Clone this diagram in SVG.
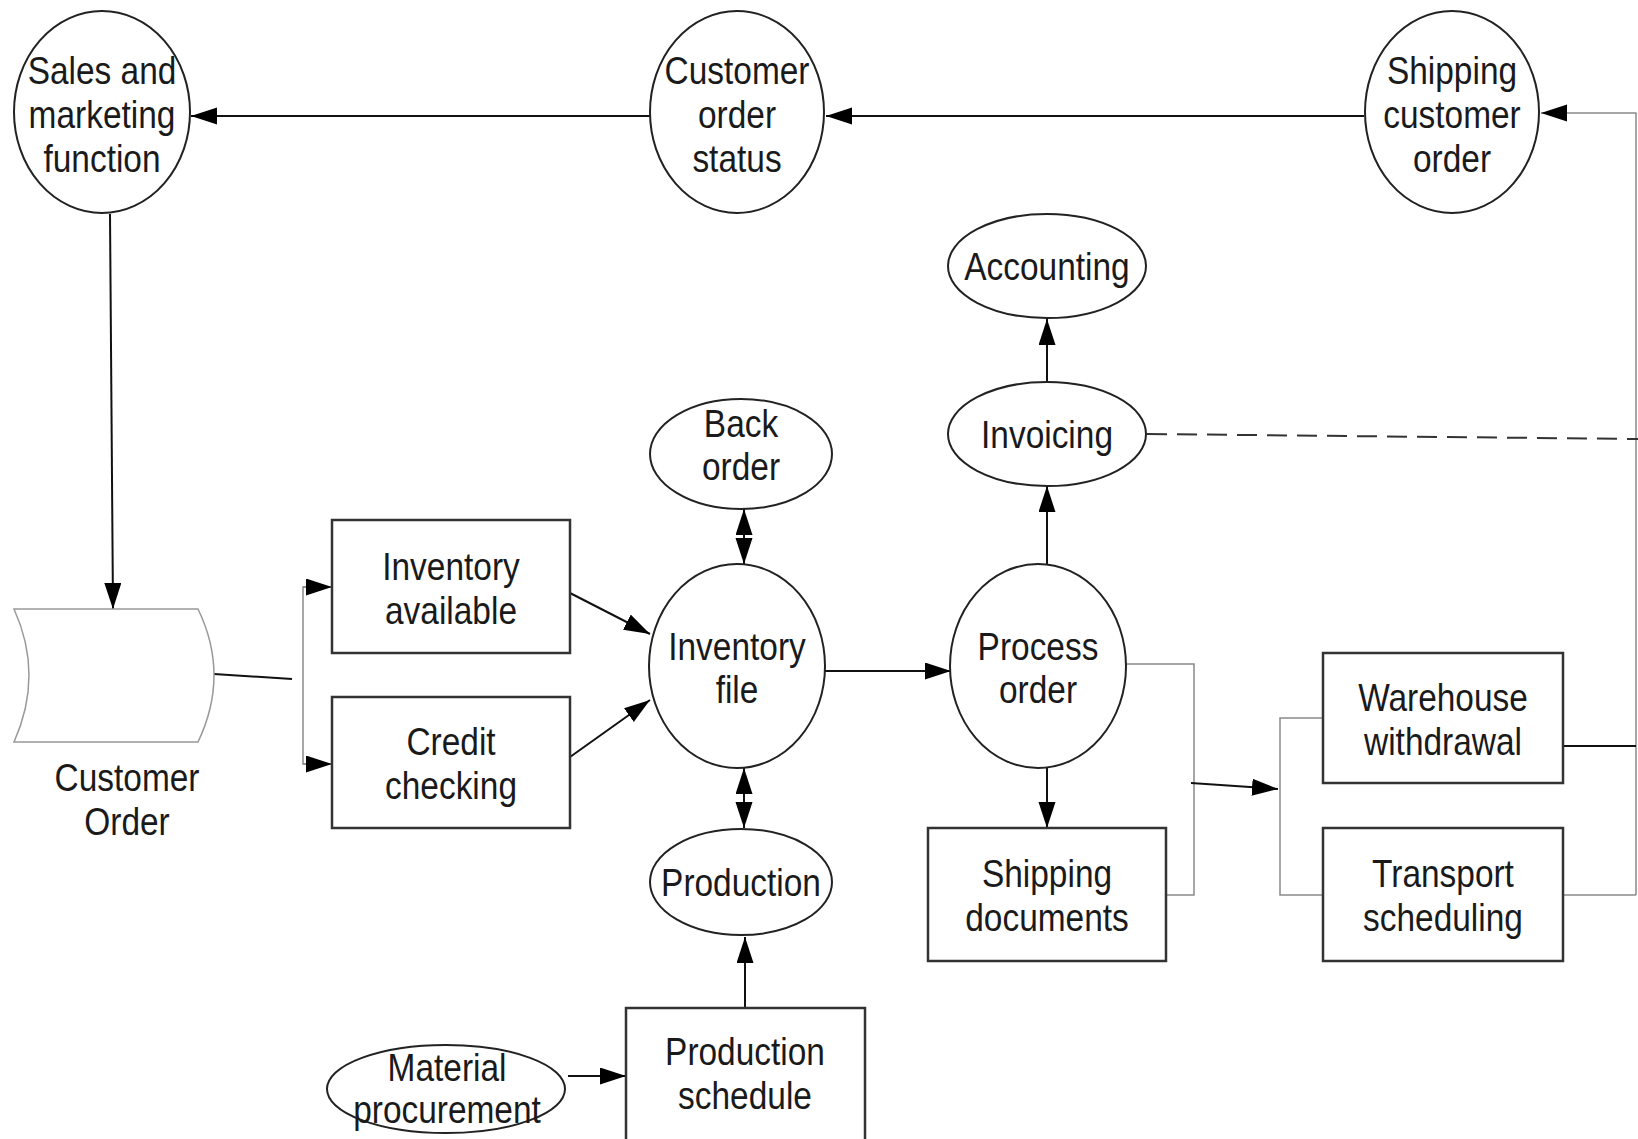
<svg xmlns="http://www.w3.org/2000/svg" width="1638" height="1139" viewBox="0 0 1638 1139">
<style>
.t{font-family:"Liberation Sans",Arial,sans-serif;font-size:38px;fill:#1a1a1a;text-anchor:middle}
.n{fill:#fff;stroke:#222;stroke-width:2}
.r{fill:#fff;stroke:#333;stroke-width:2.5}
.c{fill:none;stroke:#111;stroke-width:2}
.g{fill:none;stroke:#8a8a8a;stroke-width:1.5}
.d{fill:none;stroke:#333;stroke-width:2;stroke-dasharray:20 10}
</style>
<defs>
<marker id="ah" markerUnits="userSpaceOnUse" markerWidth="28" markerHeight="20" refX="26" refY="8.5" orient="auto-start-reverse">
<path d="M0,0 L26,8.5 L0,17 Z" fill="#000"/>
</marker>
</defs>
<rect width="1638" height="1139" fill="#fff"/>
<g id="connectors">
<line class="c" x1="650" y1="116" x2="191" y2="116" marker-end="url(#ah)"/>
<line class="c" x1="1364" y1="116" x2="826" y2="116" marker-end="url(#ah)"/>
<polyline class="g" points="1636,895 1636,113 1541,113" marker-end="url(#ah)"/>
<line class="c" x1="1559" y1="746" x2="1636" y2="746"/>
<line class="g" x1="1563" y1="895" x2="1636" y2="895"/>
<line class="d" x1="1147" y1="434" x2="1638" y2="439"/>
<line class="c" x1="1047" y1="381" x2="1047" y2="319" marker-end="url(#ah)"/>
<line class="c" x1="1047" y1="565" x2="1047" y2="486" marker-end="url(#ah)"/>
<line class="c" x1="1047" y1="767" x2="1047" y2="828" marker-end="url(#ah)"/>
<line class="c" x1="825" y1="671" x2="951" y2="671" marker-end="url(#ah)"/>
<line class="c" x1="570" y1="593" x2="650" y2="634" marker-end="url(#ah)"/>
<line class="c" x1="570" y1="757" x2="650" y2="700" marker-end="url(#ah)"/>
<line class="c" x1="744" y1="509" x2="744" y2="564" marker-start="url(#ah)" marker-end="url(#ah)"/>
<line class="c" x1="744" y1="768" x2="744" y2="828" marker-start="url(#ah)" marker-end="url(#ah)"/>
<line class="c" x1="745" y1="1008" x2="745" y2="937" marker-end="url(#ah)"/>
<line class="c" x1="568" y1="1076" x2="626" y2="1076" marker-end="url(#ah)"/>
<line class="c" x1="214" y1="674" x2="292" y2="679"/>
<polyline class="g" points="332,587 303,587 303,764 332,764"/>
<line class="g" x1="303" y1="587" x2="332" y2="587" marker-end="url(#ah)"/>
<line class="g" x1="303" y1="764" x2="332" y2="764" marker-end="url(#ah)"/>
<line class="c" x1="110" y1="214" x2="113" y2="609" marker-end="url(#ah)"/>
<polyline class="g" points="1126,664 1194,664 1194,895 1166,895"/>
<line class="c" x1="1191" y1="783" x2="1278" y2="789" marker-end="url(#ah)"/>
<polyline class="g" points="1323,718 1280,718 1280,895 1323,895"/>
</g>
<g id="sales">
<ellipse class="n" cx="102" cy="112" rx="88" ry="101"/>
<text class="t" transform="translate(102,84) scale(0.88,1)"><tspan x="0" y="0">Sales and</tspan><tspan x="0" y="44">marketing</tspan><tspan x="0" y="88">function</tspan></text>
</g>
<g id="order-status">
<ellipse class="n" cx="737" cy="112" rx="87" ry="101"/>
<text class="t" transform="translate(737,84) scale(0.88,1)"><tspan x="0" y="0">Customer</tspan><tspan x="0" y="44">order</tspan><tspan x="0" y="88">status</tspan></text>
</g>
<g id="shipping-customer-order">
<ellipse class="n" cx="1452" cy="112" rx="87" ry="101"/>
<text class="t" transform="translate(1452,84) scale(0.88,1)"><tspan x="0" y="0">Shipping</tspan><tspan x="0" y="44">customer</tspan><tspan x="0" y="88">order</tspan></text>
</g>
<g id="accounting">
<ellipse class="n" cx="1047" cy="266" rx="99" ry="52"/>
<text class="t" transform="translate(1047,280) scale(0.88,1)">Accounting</text>
</g>
<g id="invoicing">
<ellipse class="n" cx="1047" cy="434" rx="99" ry="52"/>
<text class="t" transform="translate(1047,448) scale(0.88,1)">Invoicing</text>
</g>
<g id="back-order">
<ellipse class="n" cx="741" cy="454" rx="91" ry="55"/>
<text class="t" transform="translate(741,437) scale(0.88,1)"><tspan x="0" y="0">Back</tspan><tspan x="0" y="43">order</tspan></text>
</g>
<g id="inventory-file">
<ellipse class="n" cx="737" cy="666" rx="88" ry="102"/>
<text class="t" transform="translate(737,660) scale(0.88,1)"><tspan x="0" y="0">Inventory</tspan><tspan x="0" y="43">file</tspan></text>
</g>
<g id="process-order">
<ellipse class="n" cx="1038" cy="666" rx="88" ry="102"/>
<text class="t" transform="translate(1038,660) scale(0.88,1)"><tspan x="0" y="0">Process</tspan><tspan x="0" y="43">order</tspan></text>
</g>
<g id="production">
<ellipse class="n" cx="741" cy="882" rx="91" ry="53"/>
<text class="t" transform="translate(741,896) scale(0.88,1)">Production</text>
</g>
<g id="material-procurement">
<ellipse class="n" cx="446" cy="1089" rx="119" ry="44"/>
<text class="t" transform="translate(447,1081) scale(0.88,1)"><tspan x="0" y="0">Material</tspan><tspan x="0" y="42">procurement</tspan></text>
</g>
<g id="production-schedule">
<rect class="r" x="626" y="1008" width="239" height="140"/>
<text class="t" transform="translate(745,1065) scale(0.88,1)"><tspan x="0" y="0">Production</tspan><tspan x="0" y="44">schedule</tspan></text>
</g>
<g id="inventory-available">
<rect class="r" x="332" y="520" width="238" height="133"/>
<text class="t" transform="translate(451,580) scale(0.88,1)"><tspan x="0" y="0">Inventory</tspan><tspan x="0" y="44">available</tspan></text>
</g>
<g id="credit-checking">
<rect class="r" x="332" y="697" width="238" height="131"/>
<text class="t" transform="translate(451,755) scale(0.88,1)"><tspan x="0" y="0">Credit</tspan><tspan x="0" y="44">checking</tspan></text>
</g>
<g id="shipping-documents">
<rect class="r" x="928" y="828" width="238" height="133"/>
<text class="t" transform="translate(1047,887) scale(0.88,1)"><tspan x="0" y="0">Shipping</tspan><tspan x="0" y="44">documents</tspan></text>
</g>
<g id="warehouse-withdrawal">
<rect class="r" x="1323" y="653" width="240" height="130"/>
<text class="t" transform="translate(1443,711) scale(0.88,1)"><tspan x="0" y="0">Warehouse</tspan><tspan x="0" y="44">withdrawal</tspan></text>
</g>
<g id="transport-scheduling">
<rect class="r" x="1323" y="828" width="240" height="133"/>
<text class="t" transform="translate(1443,887) scale(0.88,1)"><tspan x="0" y="0">Transport</tspan><tspan x="0" y="44">scheduling</tspan></text>
</g>
<g id="customer-order">
<path d="M14,609 L198,609 Q230,675 198,742 L14,742 Q44,675 14,609 Z" fill="#fff" stroke="#999" stroke-width="1.5"/>
<text class="t" transform="translate(127,791) scale(0.88,1)"><tspan x="0" y="0">Customer</tspan><tspan x="0" y="44">Order</tspan></text>
</g>
</svg>
